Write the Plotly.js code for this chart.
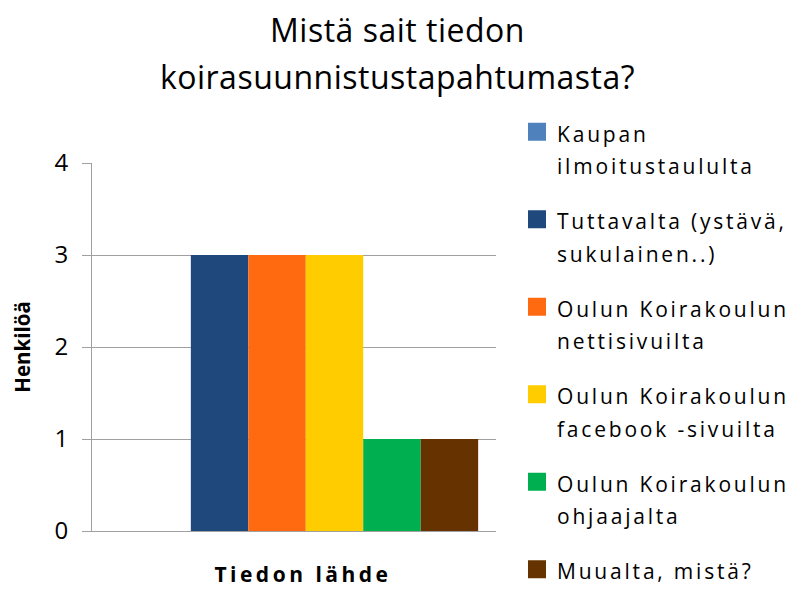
<!DOCTYPE html>
<html>
<head>
<meta charset="utf-8">
<script src="https://cdn.plot.ly/plotly-3.0.1.min.js"></script>
<style>
  html, body { margin: 0; padding: 0; background: #fff; }
  #chart { width: 795px; height: 590px; }
  .legendtext { letter-spacing: 2.8px; }
  .gtitle { letter-spacing: 0.5px; }
  .xtitle { letter-spacing: 3.5px; }
</style>
</head>
<body>
<div id="chart"></div>
<script>
// ---- data ----
const categories = ["Tiedon lähde"];
const seriesNames = [
  "Kaupan<br>ilmoitustaululta",
  "Tuttavalta (ystävä,<br>sukulainen..)",
  "Oulun Koirakoulun<br>nettisivuilta",
  "Oulun Koirakoulun<br>facebook -sivuilta",
  "Oulun Koirakoulun<br>ohjaajalta",
  "Muualta, mistä?"
];
const kaupan = [0];
const tuttavalta = [3];
const nettisivuilta = [3];
const facebook = [3];
const ohjaajalta = [1];
const muualta = [1];
const seriesValues = [kaupan, tuttavalta, nettisivuilta, facebook, ohjaajalta, muualta];
const seriesColors = ["#4F81BD", "#1F497D", "#FF6A10", "#FFCC00", "#00B050", "#663300"];
const yTicks = [0, 1, 2, 3, 4];

const span = (t, size) => t.split("<br>").map(s => `<span style="font-size:${size}px">${s}</span>`).join("<br>");

const traces = seriesValues.map((vals, i) => ({
  type: "bar",
  x: categories,
  y: vals,
  name: span(seriesNames[i], 21),
  legendgroup: "g" + i,
  marker: { color: seriesColors[i] },
  hoverinfo: "none"
}));

const grid = "#A0A0A0";
const layout = {
  width: 795,
  height: 590,
  paper_bgcolor: "#fff",
  plot_bgcolor: "#fff",
  font: { family: "Open Sans, sans-serif", color: "#000" },
  margin: { l: 92, r: 299, t: 163, b: 59, autoexpand: false },
  barmode: "group",
  bargap: 0.15,
  bargroupgap: 0,
  title: {
    text: span("Mistä sait tiedon", 32) + "<br>" + span("koirasuunnistustapahtumasta?", 32),
    font: { size: 36, color: "#000" },
    x: 0.5, xref: "container", xanchor: "center",
    y: 0.929, yref: "container", yanchor: "top"
  },
  xaxis: {
    type: "category",
    range: [-0.527, 0.469],
    showticklabels: false,
    ticks: "",
    showgrid: false,
    showline: true,
    linecolor: grid,
    linewidth: 1,
    zeroline: false,
    fixedrange: true,
    title: { text: "<b>&nbsp;&nbsp;Tiedon lähde</b>", font: { size: 21, color: "#000" }, standoff: 36 }
  },
  yaxis: {
    range: [0, 4],
    tickvals: yTicks,
    ticktext: yTicks.map(String),
    tickfont: { size: 24, color: "#000" },
    ticks: "outside",
    ticklen: 9,
    tickcolor: grid,
    ticklabelstandoff: 9,
    showgrid: true,
    gridcolor: grid,
    gridwidth: 1,
    showline: true,
    linecolor: grid,
    linewidth: 1,
    zeroline: false,
    fixedrange: true,
    title: { text: "<b>Henkilöä</b>", font: { size: 20.5, color: "#000" }, standoff: 18 }
  },
  showlegend: true,
  legend: {
    x: 517 / 795, xref: "container", xanchor: "left",
    y: 1 - 109 / 590, yref: "container", yanchor: "top",
    font: { size: 25, color: "#000" },
    valign: "top",
    traceorder: "grouped",
    tracegroupgap: 19.5,
    maxheight: 580,
    bgcolor: "rgba(0,0,0,0)",
    borderwidth: 0
  }
};

Plotly.newPlot("chart", traces, layout, { displayModeBar: false, staticPlot: true }).then(() => {
  document.querySelectorAll(".legend .legendpoints path").forEach(p => {
    p.setAttribute("d", "M9,9H-9V-9H9Z");
  });
});
</script>
</body>
</html>
